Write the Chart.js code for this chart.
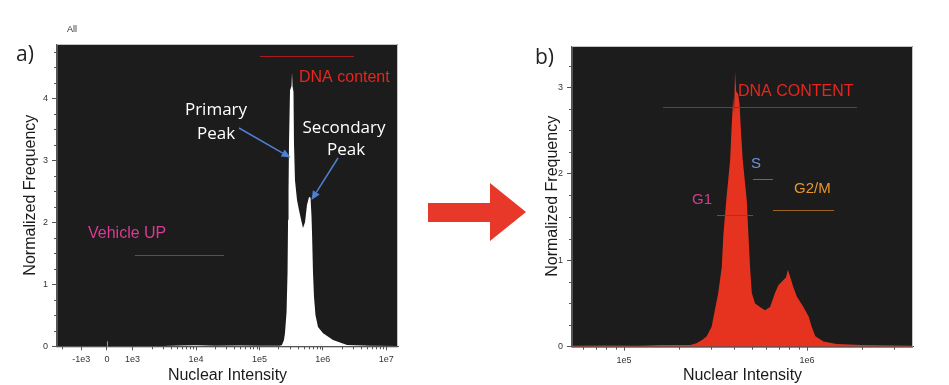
<!DOCTYPE html>
<html>
<head>
<meta charset="utf-8">
<script src="https://cdn.jsdelivr.net/npm/chart.js@4.4.1/dist/chart.umd.min.js"></script>
<style>
  html, body { margin:0; padding:0; background:#ffffff; width:949px; height:385px; overflow:hidden; }
  canvas { position:absolute; top:0; }
  #cA { left:0; }
  #cB { left:520px; }
  #arrow { left:420px; top:170px; }
</style>
</head>
<body>
<canvas id="cA" width="420" height="385"></canvas>
<canvas id="arrow" width="110" height="90"></canvas>
<canvas id="cB" width="429" height="385"></canvas>
<script>
// ---------------- DATA ----------------
// Panel a (biexponential axis): tick values and labels
const A_TICKS = [-1e3, 0, 1e3, 1e4, 1e5, 1e6, 1e7];
const A_TICK_LABELS = ['-1e3', '0', '1e3', '1e4', '1e5', '1e6', '1e7'];
const A_Y_TICKS = [0, 1, 2, 3, 4];
// Panel a histogram outline (nuclear intensity, normalized frequency)
const A_INTENSITY = [1e3, 3e3, 6e3, 1e4, 2e4, 5e4, 1e5, 1.6e5, 2.11e5, 2.27e5, 2.44e5, 2.53e5, 2.68e5, 2.78e5,
  2.83e5, 2.88e5, 2.93e5, 3.04e5, 3.21e5, 3.27e5, 3.33e5, 3.45e5, 3.51e5, 3.64e5, 3.92e5, 4.21e5, 4.53e5,
  4.87e5, 5.24e5, 5.63e5, 6.06e5, 6.40e5, 6.63e5, 6.76e5, 7.00e5, 7.26e5, 7.67e5, 8.40e5, 1.01e6, 1.45e6,
  2.41e6, 5.55e6, 1.5e7];
const A_FREQ = [0, 0.005, 0.012, 0.015, 0.01, 0.012, 0.008, 0.01, 0.01, 0.02, 0.10, 0.21, 0.55, 1.20,
  2.04, 2.50, 3.28, 4.13, 4.20, 4.42, 4.20, 4.10, 3.28, 2.68, 2.36, 2.20, 2.05,
  1.91, 2.00, 2.28, 2.41, 2.40, 2.10, 1.83, 1.20, 0.80, 0.50, 0.31, 0.21, 0.10,
  0.02, 0.01, 0.005];
// Panel a gates
const A_GATE_LABELS = ['Vehicle UP', 'DNA content'];
const A_GATE_FROM = [1.09e3, 1.02e5];
const A_GATE_TO = [2.77e4, 3.1e6];
const A_GATE_LEVEL = [1.48, 4.68];

// Panel b (log axis)
const B_TICKS = [1e5, 1e6];
const B_TICK_LABELS = ['1e5', '1e6'];
const B_Y_TICKS = [0, 1, 2, 3];
const B_INTENSITY = [5.2e4, 8e4, 1.2e5, 1.6e5, 2.0e5, 2.3e5, 2.49e5, 2.68e5, 2.83e5, 3.01e5, 3.14e5, 3.27e5,
  3.42e5, 3.49e5, 3.62e5, 3.80e5, 3.87e5, 3.95e5, 3.99e5, 4.04e5, 4.10e5, 4.20e5, 4.28e5, 4.34e5, 4.45e5,
  4.68e5, 4.78e5, 4.88e5, 4.99e5, 5.20e5, 5.53e5, 5.89e5, 6.28e5, 6.68e5, 6.97e5, 7.42e5, 7.67e5, 7.85e5,
  8.08e5, 8.41e5, 8.79e5, 9.55e5, 1.02e6, 1.06e6, 1.11e6, 1.23e6, 1.45e6, 2.0e6, 3.8e6];
const B_FREQ = [0.01, 0.015, 0.01, 0.02, 0.02, 0.02, 0.04, 0.08, 0.12, 0.23, 0.43, 0.62,
  0.92, 1.30, 1.70, 2.16, 2.54, 2.89, 2.70, 3.18, 2.95, 2.92, 2.80, 2.54, 2.16,
  1.70, 1.30, 0.92, 0.62, 0.50, 0.46, 0.42, 0.46, 0.62, 0.71, 0.77, 0.80, 0.89,
  0.81, 0.69, 0.58, 0.46, 0.35, 0.23, 0.12, 0.06, 0.03, 0.02, 0.01];
// Panel b gates
const B_GATE_LABELS = ['DNA CONTENT', 'S', 'G2/M', 'G1'];
const B_GATE_FROM = [1.63e5, 5.05e5, 6.55e5, 3.21e5];
const B_GATE_TO = [1.87e6, 6.55e5, 1.41e6, 5.09e5];
const B_GATE_LEVEL = [2.77, 1.94, 1.58, 1.52];

// ---------------- HELPERS ----------------
const FONT = "'Liberation Sans', Arial, sans-serif";
const CAL = "'Open Sans', 'Noto Sans', sans-serif";
const LIN_CENTER = 2.596, LIN_HALF = 0.404;
function biex(v) {
  if (v >= 1e3) return Math.log10(v);
  if (v <= -1e3) return LIN_CENTER - LIN_HALF - (Math.log10(-v) - 3);
  return LIN_CENTER + LIN_HALF * v / 1e3;
}
function hline(ctx, x1, x2, y, color) {
  ctx.save(); ctx.strokeStyle = color; ctx.lineWidth = 1;
  const yy = Math.round(y) + 0.5;
  ctx.beginPath(); ctx.moveTo(Math.round(x1), yy); ctx.lineTo(Math.round(x2), yy); ctx.stroke(); ctx.restore();
}
function text(ctx, s, x, y, font, color, align) {
  ctx.save(); ctx.font = font; ctx.fillStyle = color; ctx.textAlign = align || 'left';
  ctx.textBaseline = 'alphabetic'; ctx.fillText(s, x, y); ctx.restore();
}
function arrow(ctx, x1, y1, x2, y2, color) {
  ctx.save(); ctx.strokeStyle = color; ctx.fillStyle = color; ctx.lineWidth = 1.5;
  const ang = Math.atan2(y2 - y1, x2 - x1), hl = 9, hw = 4;
  const bx = x2 - hl * Math.cos(ang), by = y2 - hl * Math.sin(ang);
  ctx.beginPath(); ctx.moveTo(x1, y1); ctx.lineTo(bx, by); ctx.stroke();
  ctx.beginPath(); ctx.moveTo(x2, y2);
  ctx.lineTo(bx + hw * Math.sin(ang), by - hw * Math.cos(ang));
  ctx.lineTo(bx - hw * Math.sin(ang), by + hw * Math.cos(ang));
  ctx.closePath(); ctx.fill(); ctx.restore();
}
function frameAndTicks(chart, xMinor, yMinor, xToAxis) {
  const { ctx, chartArea: a, scales: { x, y } } = chart;
  ctx.save();
  ctx.strokeStyle = '#c4c4c4'; ctx.lineWidth = 1;
  ctx.beginPath();
  ctx.moveTo(a.left, a.top + 0.5); ctx.lineTo(a.right - 0.5, a.top + 0.5); ctx.lineTo(a.right - 0.5, a.bottom);
  ctx.stroke();
  ctx.strokeStyle = '#555';
  ctx.beginPath();
  ctx.moveTo(a.left - 0.5, a.top); ctx.lineTo(a.left - 0.5, a.bottom + 0.5); ctx.lineTo(a.right, a.bottom + 0.5);
  ctx.stroke();
  ctx.beginPath();
  xMinor.forEach(v => {
    const px = Math.round(x.getPixelForValue(xToAxis(v))) + 0.5;
    if (px > a.left && px < a.right) { ctx.moveTo(px, a.bottom); ctx.lineTo(px, a.bottom + 3); }
  });
  yMinor.forEach(v => {
    const py = Math.round(y.getPixelForValue(v)) + 0.5;
    if (py > a.top - 1 && py < a.bottom) { ctx.moveTo(a.left - 3, py); ctx.lineTo(a.left, py); }
  });
  ctx.stroke();
  ctx.restore();
}
const bgPlugin = {
  id: 'bgfill',
  beforeDraw(chart) {
    const { ctx, chartArea: a } = chart;
    ctx.save(); ctx.fillStyle = '#1c1c1c';
    ctx.fillRect(a.left, a.top, a.right - a.left, a.bottom - a.top); ctx.restore();
  }
};
function yMinors(max) {
  const out = [];
  for (let v = 0.25; v < max; v += 0.25) if (Math.abs(v - Math.round(v)) > 1e-6) out.push(v);
  return out;
}
function axisOpts(title, titlePad, labels) {
  const o = {
    ticks: { autoSkip: false, maxRotation: 0, padding: 4, color: '#333', font: { family: FONT, size: 9 } },
    grid: { drawOnChartArea: false, color: '#555', tickLength: 4 },
    border: { color: '#555' },
    title: { display: true, text: title, color: '#1a1a1a', font: { family: FONT, size: 16 }, padding: titlePad }
  };
  if (labels) o.ticks.callback = (v, i) => labels[i];
  return o;
}

// ---------------- PANEL A ----------------
const A_X_MINOR = [-2e3];
for (let d = 3; d <= 6; d++) for (let m = 2; m <= 9; m++) A_X_MINOR.push(m * Math.pow(10, d));
const annotA = {
  id: 'annotA',
  afterDraw(chart) {
    const { ctx, scales: { x, y } } = chart;
    frameAndTicks(chart, A_X_MINOR, yMinors(4.876), biex);
    const z = Math.round(x.getPixelForValue(biex(0))) + 0.5;
    ctx.save(); ctx.strokeStyle = '#9a9a9a'; ctx.beginPath(); ctx.moveTo(z, chart.chartArea.bottom - 5); ctx.lineTo(z, chart.chartArea.bottom); ctx.stroke(); ctx.restore();
    const gateColors = ['#a8246a', '#a81e1e'];
    A_GATE_LABELS.forEach((lab, i) => {
      hline(ctx, x.getPixelForValue(biex(A_GATE_FROM[i])), x.getPixelForValue(biex(A_GATE_TO[i])),
        y.getPixelForValue(A_GATE_LEVEL[i]), gateColors[i]);
    });
    text(ctx, A_GATE_LABELS[0], 88, 238, '16px ' + FONT, '#d93a92');
    text(ctx, A_GATE_LABELS[1], 299, 82, '16px ' + FONT, '#e8261e');
    text(ctx, 'Primary', 216, 115, '17px ' + CAL, '#ffffff', 'center');
    text(ctx, 'Peak', 216, 139, '17px ' + CAL, '#ffffff', 'center');
    text(ctx, 'Secondary', 344, 133, '17px ' + CAL, '#ffffff', 'center');
    text(ctx, 'Peak', 346, 155, '17px ' + CAL, '#ffffff', 'center');
    arrow(ctx, 239, 128, 290.5, 157.5, '#4f7fd0');
    arrow(ctx, 338, 158, 311.5, 200, '#4f7fd0');
    text(ctx, 'All', 67, 32, '9px ' + FONT, '#333');
    text(ctx, 'a)', 16, 61, '21px ' + CAL, '#222');
  }
};
const axA = axisOpts('Nuclear Intensity', { top: 0, bottom: 0 }, A_TICK_LABELS);
const ayA = axisOpts('Normalized Frequency', { top: 20.5, bottom: 0 });
ayA.grid.tickLength = 5;
new Chart(document.getElementById('cA'), {
  type: 'line',
  data: { datasets: [{
    data: A_INTENSITY.map((v, i) => ({ x: biex(v), y: A_FREQ[i] })),
    fill: 'origin', backgroundColor: '#ffffff', borderWidth: 0, pointRadius: 0, tension: 0
  }] },
  options: {
    responsive: false, devicePixelRatio: 1, animation: false, events: [],
    layout: { padding: { left: 0, top: 44, right: 22, bottom: 0 } },
    plugins: { legend: { display: false }, tooltip: { enabled: false } },
    scales: {
      x: Object.assign(axA, {
        type: 'linear', min: 1.8076, max: 7.186,
        afterBuildTicks: s => { s.ticks = A_TICKS.map(v => ({ value: biex(v) })); },
        afterFit: s => { s.height = 38.7; }
      }),
      y: Object.assign(ayA, {
        min: 0, max: 4.876,
        afterBuildTicks: s => { s.ticks = A_Y_TICKS.map(v => ({ value: v })); },
        afterFit: s => { s.width = 57; }
      })
    }
  },
  plugins: [bgPlugin, annotA]
});

// ---------------- PANEL B ----------------
const B_X_MINOR = [6e4, 7e4, 8e4, 9e4, 2e5, 3e5, 4e5, 5e5, 6e5, 7e5, 8e5, 9e5, 2e6, 3e6];
const annotB = {
  id: 'annotB',
  afterDraw(chart) {
    const { ctx, scales: { x, y } } = chart;
    frameAndTicks(chart, B_X_MINOR, yMinors(3.476), v => v);
    const gateColors = ['#b22020', '#4f6aa8', '#9a6420', '#a8246a'];
    B_GATE_LABELS.forEach((lab, i) => {
      hline(ctx, x.getPixelForValue(B_GATE_FROM[i]), x.getPixelForValue(B_GATE_TO[i]),
        y.getPixelForValue(B_GATE_LEVEL[i]), gateColors[i]);
    });
    text(ctx, B_GATE_LABELS[0], 218, 96, '16px ' + FONT, '#e8261e');
    text(ctx, B_GATE_LABELS[1], 236, 168, '15px ' + FONT, '#6f93dc', 'center');
    text(ctx, B_GATE_LABELS[2], 274, 193, '15px ' + FONT, '#e8962e');
    text(ctx, B_GATE_LABELS[3], 172, 204, '15px ' + FONT, '#d43a8e');
    text(ctx, 'b)', 15, 64, '21px ' + CAL, '#222');
  }
};
const axB = axisOpts('Nuclear Intensity', { top: 0, bottom: 0 }, B_TICK_LABELS);
const ayB = axisOpts('Normalized Frequency', { top: 23, bottom: 0 });
ayB.grid.tickLength = 5;
new Chart(document.getElementById('cB'), {
  type: 'line',
  data: { datasets: [{
    data: B_INTENSITY.map((v, i) => ({ x: v, y: B_FREQ[i] })),
    fill: 'origin', backgroundColor: '#e6331f', borderWidth: 0, pointRadius: 0, tension: 0
  }] },
  options: {
    responsive: false, devicePixelRatio: 1, animation: false, events: [],
    layout: { padding: { left: 0, top: 46, right: 36, bottom: 0 } },
    plugins: { legend: { display: false }, tooltip: { enabled: false } },
    scales: {
      x: Object.assign(axB, {
        type: 'logarithmic', min: 5.197e4, max: 3.79e6,
        afterBuildTicks: s => { s.ticks = B_TICKS.map(v => ({ value: v })); },
        afterFit: s => { s.height = 38.3; }
      }),
      y: Object.assign(ayB, {
        min: 0, max: 3.476,
        afterBuildTicks: s => { s.ticks = B_Y_TICKS.map(v => ({ value: v })); },
        afterFit: s => { s.width = 52; }
      })
    }
  },
  plugins: [bgPlugin, annotB]
});

// ---------------- BIG ARROW ----------------
(function () {
  const c = document.getElementById('arrow').getContext('2d');
  const ox = 420, oy = 170;
  c.fillStyle = '#e8382a';
  c.beginPath();
  c.moveTo(428 - ox, 203 - oy); c.lineTo(490 - ox, 203 - oy); c.lineTo(490 - ox, 183 - oy);
  c.lineTo(526 - ox, 212 - oy); c.lineTo(490 - ox, 241 - oy); c.lineTo(490 - ox, 222 - oy);
  c.lineTo(428 - ox, 222 - oy); c.closePath(); c.fill();
})();
</script>
</body>
</html>
